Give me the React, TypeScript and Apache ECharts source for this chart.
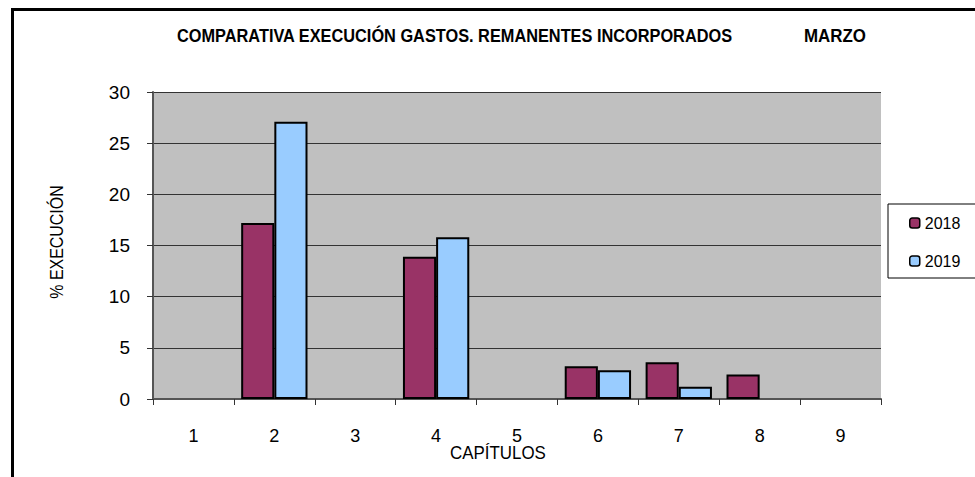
import React, { useEffect, useRef } from "react";
import * as echarts from "echarts";

const categories = ["1", "2", "3", "4", "5", "6", "7", "8", "9"];
const series2018: (number | null)[] = [null, 17.2, null, 13.9, null, 3.2, 3.6, 2.4, null];
const series2019: (number | null)[] = [null, 27.1, null, 15.8, null, 2.8, 1.2, null, null];
const seriesNames = ["2018", "2019"];
const titleMain = "COMPARATIVA EXECUCIÓN GASTOS. REMANENTES INCORPORADOS";
const titleMonth = "MARZO";
const xName = "CAPÍTULOS";
const yName = "% EXECUCIÓN";

const FONT = "'Liberation Sans', Arial, sans-serif";

export default function App() {
  const ref = useRef<HTMLDivElement>(null);
  useEffect(() => {
    if (!ref.current) return;
    const chart = echarts.init(ref.current, undefined, { renderer: "svg" });
    chart.setOption({
      animation: false,
      backgroundColor: "#ffffff",
      textStyle: { fontFamily: FONT },
      grid: {
        left: 153,
        top: 92,
        right: 94,
        bottom: 78,
        show: true,
        backgroundColor: "#C0C0C0",
        borderWidth: 0,
      },
      legend: {
        orient: "vertical",
        left: 888,
        top: 204,
        padding: [10, 17, 8, 21],
        itemGap: 20,
        itemWidth: 10,
        itemHeight: 10,
        borderColor: "#000",
        borderWidth: 1,
        backgroundColor: "#fff",
        textStyle: { fontFamily: FONT, fontSize: 16, color: "#000", lineHeight: 18 },
        itemStyle: { borderColor: "#000", borderWidth: 1.5 },
        data: seriesNames,
      },
      xAxis: {
        type: "category",
        data: categories,
        axisLine: { show: true, lineStyle: { color: "#555", width: 2 } },
        axisTick: { show: true, length: 6, lineStyle: { color: "#333" } },
        axisLabel: { fontFamily: FONT, fontSize: 18, lineHeight: 14, color: "#000", margin: 30 },
        splitLine: { show: false },
      },
      yAxis: {
        type: "value",
        min: 0,
        max: 30,
        interval: 5,
        axisLine: { show: true, lineStyle: { color: "#555", width: 2 } },
        axisTick: { show: true, length: 6, lineStyle: { color: "#333" } },
        axisLabel: { fontFamily: FONT, fontSize: 19, color: "#000", margin: 23 },
        splitLine: { show: true, lineStyle: { color: "#333", width: 1 } },
      },
      series: [
        {
          name: seriesNames[0],
          type: "bar",
          data: series2018,
          barGap: "0%",
          barCategoryGap: "18%",
          itemStyle: { color: "#993366", borderColor: "#000", borderWidth: 2 },
        },
        {
          name: seriesNames[1],
          type: "bar",
          data: series2019,
          barGap: "0%",
          barCategoryGap: "18%",
          itemStyle: { color: "#99CCFF", borderColor: "#000", borderWidth: 2 },
        },
      ],
      graphic: [
        {
          type: "rect",
          shape: { x: 12.5, y: 9.5, width: 1100, height: 600 },
          style: { fill: "none", stroke: "#000", lineWidth: 3 },
          silent: true,
        },
        {
          type: "text",
          x: 177,
          y: 36,
          scaleX: 0.86,
          style: {
            text: titleMain,
            fontFamily: FONT,
            fontWeight: "bold",
            fontSize: 19,
            fill: "#000",
            textAlign: "left",
            textVerticalAlign: "middle",
          },
        },
        {
          type: "text",
          x: 804,
          y: 36,
          scaleX: 0.89,
          style: {
            text: titleMonth,
            fontFamily: FONT,
            fontWeight: "bold",
            fontSize: 19,
            fill: "#000",
            textAlign: "left",
            textVerticalAlign: "middle",
          },
        },
        {
          type: "text",
          x: 498,
          y: 453,
          scaleX: 0.89,
          style: {
            text: xName,
            fontFamily: FONT,
            fontSize: 19,
            lineHeight: 15,
            fill: "#000",
            textAlign: "center",
            textVerticalAlign: "middle",
          },
        },
        {
          type: "text",
          x: 57,
          y: 242,
          rotation: Math.PI / 2,
          scaleX: 0.84,
          style: {
            text: yName,
            fontFamily: FONT,
            fontSize: 19,
            fill: "#000",
            textAlign: "center",
            textVerticalAlign: "middle",
          },
        },
      ],
    });
    return () => chart.dispose();
  }, []);
  return <div ref={ref} style={{ width: 975, height: 477, position: "fixed", left: 0, top: 0 }} />;
}
